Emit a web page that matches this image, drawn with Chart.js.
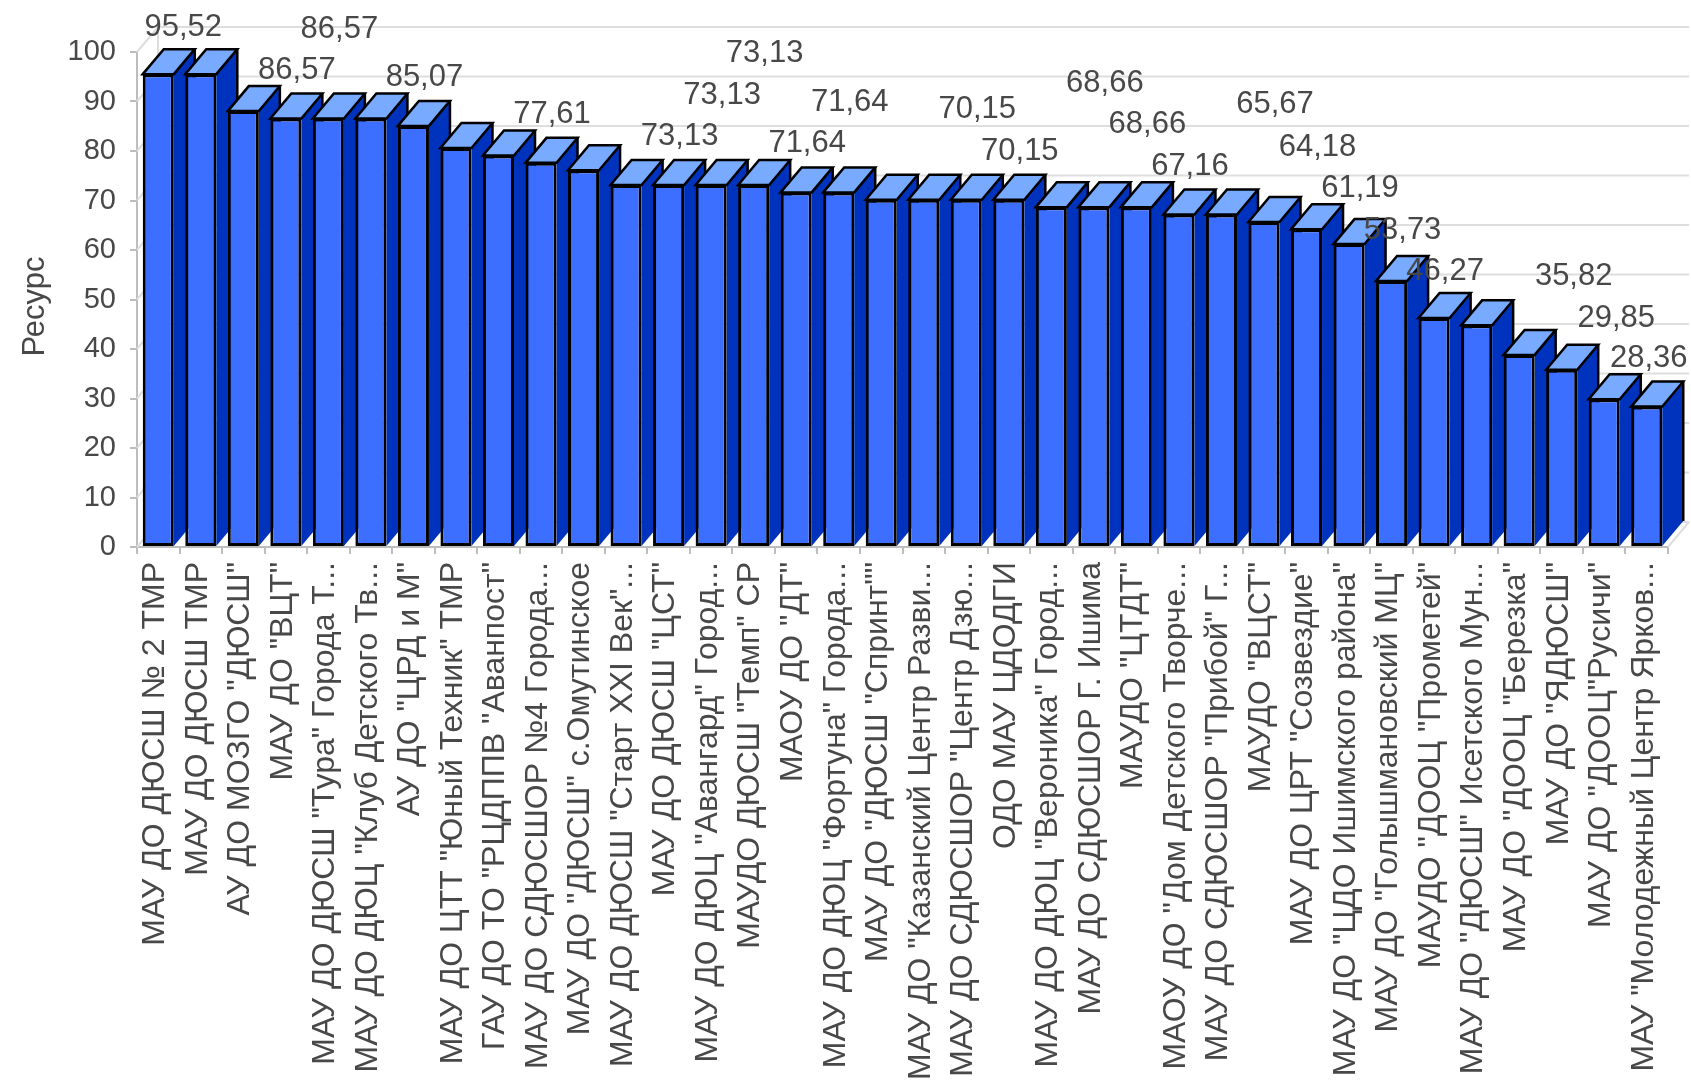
<!DOCTYPE html>
<html><head><meta charset="utf-8">
<style>html,body{margin:0;padding:0;background:#fff}#w{width:1691px;height:1086px;position:relative}canvas{display:block;filter:blur(0.7px)}</style>
<script src="https://cdn.jsdelivr.net/npm/chart.js@4/dist/chart.umd.min.js"></script>
</head><body><div id="w"><canvas id="c" width="1691" height="1086"></canvas></div>
<script>
const categories = [
'МАУ ДО ДЮСШ № 2 ТМР','МАУ ДО ДЮСШ ТМР','АУ ДО МОЗГО "ДЮСШ"','МАУ ДО "ВЦТ"','МАУ ДО ДЮСШ "Тура" Города Т...','МАУ ДО ДЮЦ "Клуб Детского Тв...','АУ ДО "ЦРД и М"','МАУ ДО ЦТТ "Юный Техник" ТМР','ГАУ ДО ТО "РЦДППВ "Аванпост"','МАУ ДО СДЮСШОР №4 Города...','МАУ ДО "ДЮСШ" с.Омутинское','МАУ ДО ДЮСШ "Старт XXI Век"...',
'МАУ ДО ДЮСШ "ЦСТ"','МАУ ДО ДЮЦ "Авангард" Город...','МАУДО ДЮСШ "Темп" СР','МАОУ ДО "ДТ"','МАУ ДО ДЮЦ "Фортуна" Города...','МАУ ДО "ДЮСШ "Спринт""','МАУ ДО "Казанский Центр Разви...','МАУ ДО СДЮСШОР "Центр Дзю...','ОДО МАУ ЦДОДГИ','МАУ ДО ДЮЦ "Вероника" Город...','МАУ ДО СДЮСШОР Г. Ишима','МАУДО "ЦТДТ"',
'МАОУ ДО "Дом Детского Творче...','МАУ ДО СДЮСШОР "Прибой" Г...','МАУДО "ВЦСТ"','МАУ ДО ЦРТ "Созвездие"','МАУ ДО "ЦДО Ишимского района"','МАУ ДО "Голышмановский МЦ"','МАУДО "ДООЦ "Прометей"','МАУ ДО "ДЮСШ" Исетского Мун...','МАУ ДО "ДООЦ "Березка"','МАУ ДО "ЯДЮСШ"','МАУ ДО "ДООЦ"Русичи"','МАУ "Молодежный Центр Ярков...'];
const resource = [95.52,95.52,88.06,86.57,86.57,86.57,85.07,80.60,79.10,77.61,76.12,73.13,73.13,73.13,73.13,71.64,71.64,70.15,70.15,70.15,70.15,68.66,68.66,68.66,67.16,67.16,65.67,64.18,61.19,53.73,46.27,44.78,38.81,35.82,29.85,28.36];
const yTicks = [0,10,20,30,40,50,60,70,80,90,100];
const axisTitle = 'Ресурс';
// Bars that carry a value label: [bar index, shift right, lift above the bar top]
const labelPlacement = [[0,25,47],[3,11,48],[4,11,89],[6,11,48],[9,11,48],[12,11,49],[13,11,90],[14,11,132],[15,11,49],[16,11,90],[19,11,90],[20,11,48],[22,11,124],[23,11,83],[24,11,48],[26,11,117],[27,11,82],[28,11,56],[29,11,51],[30,11,47],[33,12,93],[34,12,81],[35,2,48]];

const FONT = '"Liberation Sans", Arial, sans-serif';
const TEXT = '#484848', AXIS = '#bdbdbd', WALL = '#dedede';
const DX = 21, DY = 25;

const depthPlugin = {
  id: 'depth',
  beforeDatasetsDraw(chart) {
    const {ctx, scales:{x, y}} = chart;
    const a = chart.chartArea;
    ctx.save();
    ctx.lineWidth = 2;
    ctx.strokeStyle = WALL;
    y.ticks.forEach(t => {
      const py = y.getPixelForValue(t.value);
      ctx.beginPath();
      ctx.moveTo(a.left, py); ctx.lineTo(a.left + DX, py - DY); ctx.lineTo(a.right + DX, py - DY);
      ctx.stroke();
    });
    ctx.beginPath(); ctx.moveTo(a.left + DX, a.top - DY); ctx.lineTo(a.left + DX, a.bottom - DY); ctx.stroke();
    ctx.beginPath(); ctx.moveTo(a.right, a.bottom); ctx.lineTo(a.right + DX, a.bottom - DY); ctx.stroke();
    ctx.lineWidth = 2.5;
    chart.getDatasetMeta(0).data.forEach(b => {
      const half = b.width / 2, l = b.x - half, r = b.x + half, t = b.y, bt = b.base;
      ctx.strokeStyle = '#000';
      ctx.fillStyle = '#0033bd';
      ctx.beginPath();
      ctx.moveTo(r, t); ctx.lineTo(r + DX, t - DY); ctx.lineTo(r + DX, bt - DY); ctx.lineTo(r, bt); ctx.closePath();
      ctx.fill();
      ctx.beginPath(); ctx.moveTo(r + DX, bt - DY); ctx.lineTo(r + DX, t - DY); ctx.stroke();
      ctx.fillStyle = '#78aaff';
      ctx.beginPath();
      ctx.moveTo(l, t); ctx.lineTo(l + DX, t - DY); ctx.lineTo(r + DX, t - DY); ctx.lineTo(r, t); ctx.closePath();
      ctx.fill(); ctx.stroke();
    });
    ctx.restore();
  },
  afterDatasetsDraw(chart) {
    const {ctx} = chart;
    const bars = chart.getDatasetMeta(0).data;
    ctx.save();
    ctx.font = '31px ' + FONT;
    ctx.fillStyle = TEXT;
    ctx.textAlign = 'center';
    ctx.textBaseline = 'middle';
    labelPlacement.forEach(([i, dx, lift]) => {
      ctx.fillText(resource[i].toFixed(2).replace('.', ','), bars[i].x + dx, bars[i].y - lift);
    });
    ctx.restore();
  }
};

new Chart(document.getElementById('c'), {
  type: 'bar',
  data: { labels: categories, datasets: [{ data: resource, backgroundColor: '#3c6fff', borderColor: '#000', borderWidth: 3, borderSkipped: false, barPercentage: 0.73, categoryPercentage: 1 }] },
  plugins: [depthPlugin],
  options: {
    responsive: false, animation: false,
    layout: { padding: { top: 52, right: 23, left: 0, bottom: 0 } },
    plugins: { legend: {display:false}, tooltip: {enabled:false}, title: {display:false} },
    scales: {
      x: {
        offset: true,
        afterFit(s) { s.height = 539; s.paddingLeft = 0; s.paddingRight = 0; },
        grid: { drawOnChartArea: false, drawTicks: true, tickLength: 7, color: AXIS, lineWidth: 2, offset: true },
        border: { color: AXIS, width: 2 },
        ticks: { autoSkip: false, minRotation: 90, maxRotation: 90, padding: 8, labelOffset: -3, color: TEXT, font: { family: FONT, size: 32 } }
      },
      y: {
        min: 0, max: 100,
        afterFit(s) { s.width = 137; },
        afterBuildTicks(s) { s.ticks = yTicks.map(v => ({ value: v })); },
        afterUpdate(s) {
          if (s._titleMoved) return;
          s._titleMoved = true;
          const draw = s.drawTitle;
          s.drawTitle = function () {
            this.ctx.save(); this.ctx.translate(1, 7); draw.call(this); this.ctx.restore();
          };
        },
        grid: { drawOnChartArea: false, drawTicks: true, tickLength: 7, color: AXIS, lineWidth: 2 },
        border: { color: AXIS, width: 2 },
        title: { display: true, text: axisTitle, color: TEXT, font: { family: FONT, size: 31 }, padding: { top: 16, bottom: 0 } },
        ticks: { padding: 14, color: TEXT, font: { family: FONT, size: 29 } }
      }
    }
  }
});
</script></body></html>
